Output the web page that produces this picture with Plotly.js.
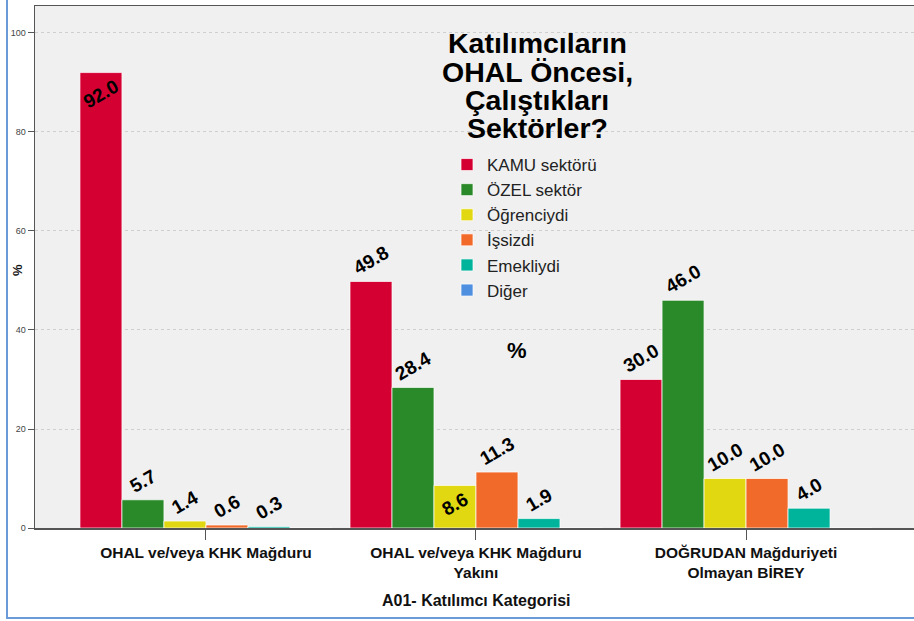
<!DOCTYPE html>
<html>
<head>
<meta charset="utf-8">
<script src="https://cdn.plot.ly/plotly-3.0.1.min.js"></script>
<style>html,body{margin:0;padding:0;background:#fff;}#chart{width:914px;height:621px;}</style>
</head>
<body>
<div id="chart"></div>
<script>
// ---- data ----
const categories = ['OHAL ve/veya KHK Mağduru', 'OHAL ve/veya KHK Mağduru<br>Yakını', 'DOĞRUDAN Mağduriyeti<br>Olmayan BİREY'];
const seriesNames = ['KAMU sektörü', 'ÖZEL sektör', 'Öğrenciydi', 'İşsizdi', 'Emekliydi', 'Diğer'];
const kamu = [92.0, 49.8, 30.0];
const ozel = [5.7, 28.4, 46.0];
const ogrenci = [1.4, 8.6, 10.0];
const issiz = [0.6, 11.3, 10.0];
const emekli = [0.3, 1.9, 4.0];
const diger = [0, 0, 0];
const titleLines = ['Katılımcıların', 'OHAL Öncesi,', 'Çalıştıkları', 'Sektörler?'];
const xTitle = 'A01- Katılımcı Kategorisi';
const yTitle = '%';
const yTicks = [0, 20, 40, 60, 80, 100];

// ---- styles ----
const colors = ['#D50032', '#2A8A2A', '#E2D811', '#F26A2A', '#00B39B', '#4F8FE0'];
const textPos = [
  ['inside', 'outside', 'outside'],
  ['outside', 'outside', 'outside'],
  ['outside', 'inside', 'outside'],
  ['outside', 'outside', 'outside'],
  ['outside', 'outside', 'outside'],
  ['outside', 'outside', 'outside']
];
const allValues = [kamu, ozel, ogrenci, issiz, emekli, diger];
const FONT = 'Arial, Liberation Sans, sans-serif';
const labelFont = {family: FONT, size: 19, color: '#000', weight: 'bold'};

const traces = allValues.map((vals, i) => ({
  type: 'bar',
  name: seriesNames[i],
  x: categories,
  y: vals,
  text: vals.map(v => v > 0 ? v.toFixed(1) : ''),
  textposition: textPos[i],
  insidetextanchor: 'end',
  textangle: -30,
  constraintext: 'none',
  cliponaxis: false,
  textfont: labelFont,
  insidetextfont: labelFont,
  outsidetextfont: labelFont,
  marker: {color: colors[i], line: {color: 'rgba(255,255,255,0.7)', width: 1}},
  hoverinfo: 'skip'
}));

const L = 35, R = 0, T = 6, B = 93, W = 914, H = 621;
const pw = W - L - R, ph = H - T - B;
const px = x => (x - L) / pw;
const py = y => (H - B - y) / ph;

const titleY = [43, 72, 100, 128];
const annotations = titleLines.map((t, i) => ({
  text: t, xref: 'paper', yref: 'paper', x: px(537), y: py(titleY[i]),
  xanchor: 'center', yanchor: 'middle', showarrow: false,
  font: {family: FONT, size: 28.5, color: '#000', weight: 'bold'}
}));
annotations.push({
  text: '%', xref: 'paper', yref: 'paper', x: px(517), y: py(350),
  xanchor: 'center', yanchor: 'middle', showarrow: false,
  font: {family: FONT, size: 22, color: '#000', weight: 'bold'}
});
// y-axis title
annotations.push({
  text: yTitle, xref: 'paper', yref: 'paper', x: px(17), y: py(270),
  xanchor: 'center', yanchor: 'middle', showarrow: false, textangle: -90,
  font: {family: FONT, size: 13, color: '#111', weight: 'bold'}
});
// x-axis title
annotations.push({
  text: xTitle, xref: 'paper', yref: 'paper', x: px(476), y: py(600),
  xanchor: 'center', yanchor: 'middle', showarrow: false,
  font: {family: FONT, size: 16, color: '#111', weight: 'bold'}
});

const layout = {
  width: W, height: H,
  margin: {l: L, r: R, t: T, b: B, pad: 0},
  paper_bgcolor: '#ffffff',
  plot_bgcolor: '#F0F0F0',
  barmode: 'group',
  bargap: 0.067,
  bargroupgap: 0,
  showlegend: true,
  legend: {
    x: px(447), y: py(147), xanchor: 'left', yanchor: 'top',
    bgcolor: 'rgba(0,0,0,0)', borderwidth: 0,
    font: {family: FONT, size: 17, color: '#222'},
    tracegroupgap: 0
  },
  xaxis: {
    type: 'category',
    range: [-0.633, 2.622],
    showline: true, linecolor: '#555', linewidth: 1.5, mirror: true,
    ticks: 'outside', ticklen: 10, tickcolor: '#555', tickwidth: 1,
    tickfont: {family: FONT, size: 15.5, color: '#111', weight: 'bold'},
    automargin: false,
    showgrid: false, zeroline: false
  },
  yaxis: {
    range: [0, 105.45],
    tickvals: yTicks,
    showline: true, linecolor: '#555', linewidth: 1.5, mirror: true,
    ticks: 'outside', ticklen: 6, tickcolor: '#555', tickwidth: 1,
    tickfont: {family: FONT, size: 9, color: '#444'},
    showgrid: true, gridcolor: '#CFCFCF', griddash: '3px,3px', gridwidth: 1,
    zeroline: false,
    automargin: false
  },
  annotations: annotations,
  shapes: [{
    type: 'rect', xref: 'paper', yref: 'paper',
    x0: px(7), x1: px(930), y0: py(618), y1: py(-20),
    line: {color: '#6A9BD8', width: 2}, fillcolor: 'rgba(0,0,0,0)', layer: 'above'
  }]
};

Plotly.newPlot('chart', traces, layout, {staticPlot: true, displayModeBar: false});
</script>
</body>
</html>
